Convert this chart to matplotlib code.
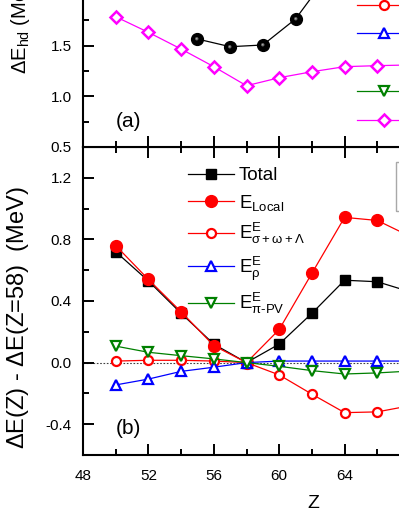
import matplotlib
matplotlib.use("Agg")
import matplotlib.pyplot as plt
from matplotlib.lines import Line2D
from matplotlib.path import Path
from matplotlib.patches import Rectangle
from matplotlib.ticker import MultipleLocator

plt.rcParams['font.family'] = ['Liberation Sans', 'DejaVu Sans']
plt.rcParams['mathtext.fontset'] = 'custom'
plt.rcParams['mathtext.rm'] = 'Liberation Sans'
plt.rcParams['mathtext.it'] = 'Liberation Sans:italic'
plt.rcParams['mathtext.bf'] = 'Liberation Sans:bold'

# ---------------- data ----------------
# panel (a)
Z_a = [50, 52, 54, 56, 58, 60, 62, 64, 66, 68]
hd_diamond = [1.786, 1.632, 1.467, 1.293, 1.105, 1.184, 1.243, 1.293, 1.303, 1.31]
Z_ball = [55, 57, 59, 61, 63]
hd_ball = [1.566, 1.49, 1.507, 1.764, 2.2]

# panel (b)
Z_b = [50, 52, 54, 56, 58, 60, 62, 64, 66, 68]
total = [0.72, 0.53, 0.32, 0.12, 0.0, 0.12, 0.32, 0.535, 0.525, 0.46]
e_local = [0.76, 0.54, 0.33, 0.11, 0.0, 0.215, 0.58, 0.943, 0.923, 0.82]
e_sigma = [0.01, 0.015, 0.015, 0.01, 0.0, -0.08, -0.205, -0.325, -0.32, -0.28]
e_rho = [-0.145, -0.107, -0.057, -0.03, 0.0, 0.01, 0.01, 0.01, 0.01, 0.01]
e_pipv = [0.107, 0.067, 0.045, 0.024, 0.0, -0.024, -0.052, -0.074, -0.067, -0.055]

labels_b = ["Total",
            r"$\mathregular{E_{Local}}$",
            r"$\mathregular{E^{E}_{\sigma+\omega+\Lambda}}$",
            r"$\mathregular{E^{E}_{\rho}}$",
            r"$\mathregular{E^{E}_{\pi\text{-PV}}}$"]
x_ticks = [48, 52, 56, 60, 64, 68, 72, 76]
x_ticklabels = ["48", "52", "56", "60", "64", "", "", ""]

# ---------------- figure ----------------
W, H = 399, 516
fig = plt.figure(figsize=(W / 100, H / 100), dpi=100)

def fx(px):
    return px / W

def fy(py):
    return (H - py) / H

x0 = 83
xs = 16.35  # px per unit
xmin, xmax = 48, 76
ax_w = (xmax - xmin) * xs

yb_top, yb_bot = 147, 455
ax_b = fig.add_axes([fx(x0), fy(yb_bot), ax_w / W, (yb_bot - yb_top) / H])
ya_scale = 101.3
ya_lim = (0.5, 3.0)
ax_a = fig.add_axes([fx(x0), fy(yb_top), ax_w / W, (ya_lim[1] - ya_lim[0]) * ya_scale / H])

for ax in (ax_a, ax_b):
    ax.set_xlim(xmin, xmax)
    for s in ax.spines.values():
        s.set_linewidth(1.5)
    ax.xaxis.set_major_locator(MultipleLocator(4))
    ax.xaxis.set_minor_locator(MultipleLocator(2))
    ax.tick_params(which='major', direction='in', length=8, width=1.4,
                   top=True, right=True, labelsize=11, pad=8)
    ax.tick_params(which='minor', direction='in', length=4.5, width=1.4,
                   top=True, right=True)
ax_b.tick_params(axis='x', which='major', pad=10)

# ---------- panel (a) ----------
ax_a.set_ylim(*ya_lim)
ax_a.yaxis.set_major_locator(MultipleLocator(0.5))
ax_a.yaxis.set_minor_locator(MultipleLocator(0.25))
ax_a.tick_params(labelbottom=False)
ax_a.set_yticks([0.5, 1.0, 1.5])
ax_a.set_yticklabels(["0.5", "1.0", "1.5"])

ax_a.plot(Z_a, hd_diamond, color='#ff00ff', lw=0.9, marker='D', ms=6.2,
          mfc='white', mec='#ff00ff', mew=1.8)
ax_a.plot(Z_ball, hd_ball, color='black', lw=0.9, marker='o', ms=8.5,
          mfc='black', mec='black', zorder=3)
hl1 = Path.circle(center=(-0.12, 0.12), radius=0.28)
hl2 = Path.circle(center=(-0.17, 0.17), radius=0.14)
ax_a.plot(Z_ball, hd_ball, ls='none', marker=hl1, ms=3.6, mfc='#606060',
          mec='none', zorder=4)
ax_a.plot(Z_ball, hd_ball, ls='none', marker=hl2, ms=1.9, mfc='#d8d8d8',
          mec='none', zorder=5)
ax_a.text(50, 0.75, "(a)", fontsize=15, ha='left', va='center')

handles_a = [
    Line2D([], [], color='red', lw=0.9, marker='o', ms=6.5, mfc='white', mec='red', mew=1.6),
    Line2D([], [], color='blue', lw=0.9, marker='^', ms=7.5, mfc='white', mec='blue', mew=1.6),
    Line2D([], [], ls='none', marker='none'),
    Line2D([], [], color='green', lw=0.9, marker='v', ms=7.5, mfc='white', mec='green', mew=1.6),
    Line2D([], [], color='#ff00ff', lw=0.9, marker='D', ms=6.2, mfc='white', mec='#ff00ff', mew=1.8),
]
ax_a.legend(handles_a, [""] * len(handles_a), loc='upper left', frameon=False,
            bbox_to_anchor=(fx(357), fy(-2)), bbox_transform=fig.transFigure,
            borderpad=0, borderaxespad=0, fontsize=13.5,
            handlelength=2.85, handletextpad=0.3, labelspacing=0.62)

# ---------- panel (b) ----------
ax_b.set_ylim(-0.6, 1.4)
ax_b.yaxis.set_major_locator(MultipleLocator(0.4))
ax_b.yaxis.set_minor_locator(MultipleLocator(0.2))
ax_b.set_yticks([-0.4, 0.0, 0.4, 0.8, 1.2])
ax_b.set_yticklabels(["-0.4", "0.0", "0.4", "0.8", "1.2"])
ax_b.set_xticks(x_ticks)
ax_b.set_xticklabels(x_ticklabels)
ax_b.axhline(0, color='#404040', lw=0.8, ls=(0, (1.5, 1.5)), zorder=1)

ax_b.plot(Z_b, total, color='black', lw=0.9, marker='s', ms=6.8,
          mfc='black', mec='black', label=labels_b[0], zorder=3)
ax_b.plot(Z_b, e_local, color='red', lw=0.9, marker='o', ms=8.5,
          mfc='red', mec='red', label=labels_b[1], zorder=3)
ax_b.plot(Z_b, e_sigma, color='red', lw=0.9, marker='o', ms=6.5,
          mfc='white', mec='red', mew=1.6, label=labels_b[2], zorder=3)
ax_b.plot(Z_b, e_rho, color='blue', lw=0.9, marker='^', ms=7.5,
          mfc='white', mec='blue', mew=1.6, label=labels_b[3], zorder=3)
ax_b.plot(Z_b, e_pipv, color='green', lw=0.9, marker='v', ms=7.5,
          mfc='white', mec='green', mew=1.6, label=labels_b[4], zorder=3)

ax_b.legend(loc='upper left', frameon=False,
            bbox_to_anchor=(fx(188), fy(167)), bbox_transform=fig.transFigure,
            borderpad=0, borderaxespad=0, fontsize=13.5,
            handlelength=2.45, handletextpad=0.27, labelspacing=0.45)

ax_b.text(50, -0.43, "(b)", fontsize=15, ha='left', va='center')

fig.add_artist(Rectangle((fx(396), fy(211)), fx(80), (211 - 162) / H,
                         transform=fig.transFigure, fill=False,
                         edgecolor='#a8a8a8', lw=1.0))

# axis labels
fig.text(fx(21), fy(74), r"$\Delta\mathregular{E_{hd}}$ (MeV)", rotation=90,
         ha='center', va='bottom', fontsize=14.5)
fig.text(fx(18), fy(318), r"$\Delta$E(Z) - $\Delta$E(Z=58)  (MeV)", rotation=90,
         ha='center', va='center', fontsize=17)
fig.text(fx(313), fy(503), "Z", ha='center', va='center', fontsize=14)

fig.savefig("out.png", dpi=100)
